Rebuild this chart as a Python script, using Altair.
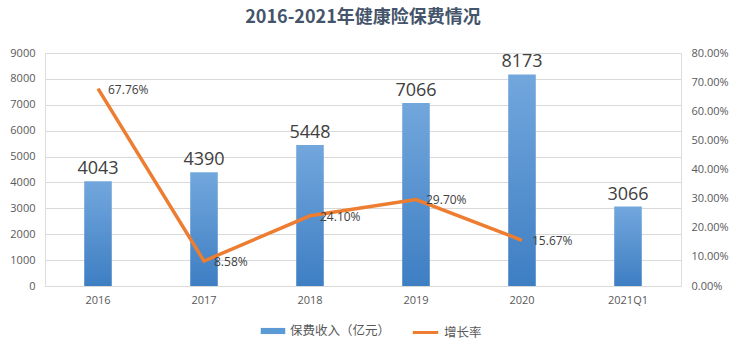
import altair as alt
import pandas as pd

years = ["2016", "2017", "2018", "2019", "2020", "2021Q1"]
premium = [4043, 4390, 5448, 7066, 8173, 3066]
growth = [0.6776, 0.0858, 0.2410, 0.2970, 0.1567, None]

df = pd.DataFrame({"year": years, "premium": premium, "growth": growth})
df_line = df.dropna()

FONT = "Noto Sans CJK SC"
NUMFONT = "Open Sans"

x_enc = alt.X("year:N", sort=years, title=None,
              scale=alt.Scale(paddingInner=0.74, paddingOuter=0.37),
              axis=alt.Axis(labelAngle=0, domain=False, ticks=False, labelColor="#595959",
                            labelFont=NUMFONT, labelFontSize=11, labelPadding=8))

left_scale = alt.Scale(domain=[0, 9000], nice=False)
y_left = alt.Y("premium:Q", title=None, scale=left_scale,
               axis=alt.Axis(values=list(range(0, 9001, 1000)), format="d", domain=False, ticks=False,
                             grid=True, gridColor="#D9D9D9", labelColor="#595959",
                             labelFont=NUMFONT, labelFontSize=11, labelPadding=10))

bars = alt.Chart(df).mark_bar(
    color=alt.Gradient(gradient="linear", x1=0, y1=0, x2=0, y2=1,
                       stops=[alt.GradientStop(color="#72A7DD", offset=0),
                              alt.GradientStop(color="#3E7EC3", offset=1)])
).encode(x=x_enc, y=y_left)

bar_text = alt.Chart(df).mark_text(dy=-12, fontSize=18, color="#404040", font=NUMFONT).encode(
    x=alt.X("year:N", sort=years), y=y_left,
    text=alt.Text("premium:Q", format="d"))

left = alt.layer(bars, bar_text)

y_right_scale = alt.Scale(domain=[0, 0.8], nice=False)
y_right = alt.Y("growth:Q", title=None, scale=y_right_scale,
                axis=alt.Axis(orient="right", format=".2%", values=[i / 10 for i in range(9)],
                              domain=False, ticks=False, grid=False, labelColor="#595959",
                              labelFont=NUMFONT, labelFontSize=11, labelPadding=10))
line = alt.Chart(df_line).mark_line(color="#ED7D31", strokeWidth=3.5).encode(
    x=alt.X("year:N", sort=years), y=y_right)

line_text = alt.Chart(df_line).mark_text(align="left", dx=10, dy=1, fontSize=12, color="#404040", font=NUMFONT).encode(
    x=alt.X("year:N", sort=years), y=y_right,
    text=alt.Text("growth:Q", format=".2%"))

# legend-only layers
leg_bar = alt.Chart(df).mark_bar().encode(
    color=alt.Color("k:N", scale=alt.Scale(domain=["保费收入（亿元）"], range=["#5B9BD5"]),
                    legend=alt.Legend(title=None, orient="none", legendX=215, legendY=265,
                                      symbolType="M-1,-0.25H1V0.25H-1Z", symbolSize=600,
                                      labelFont=FONT, labelFontSize=12.5, labelColor="#595959"))
).transform_calculate(k="'保费收入（亿元）'").transform_filter("datum.premium < 0")

leg_line = alt.Chart(df).mark_line().encode(
    color=alt.Color("k2:N", scale=alt.Scale(domain=["增长率"], range=["#ED7D31"]),
                    legend=alt.Legend(title=None, orient="none", legendX=366, legendY=265,
                                      symbolType="stroke", symbolSize=650, symbolStrokeWidth=3,
                                      labelFont=FONT, labelFontSize=12.5, labelColor="#595959"))
).transform_calculate(k2="'增长率'").transform_filter("datum.premium < 0")

right = alt.layer(line, line_text)

chart = alt.layer(left, right, leg_bar, leg_line).resolve_scale(
    y="independent", color="independent"
).properties(
    width=636, height=233,
    autosize=alt.AutoSizeParams(type="none"),
    padding={"left": 45, "top": 53, "right": 55, "bottom": 65},
    title=alt.TitleParams("2016-2021年健康险保费情况", font=FONT, fontSize=18, fontWeight="bold",
                          color="#44546A", anchor="middle", offset=20),
).configure_view(strokeWidth=0).configure(background="white")

chart.save("out.html", embed_options={"renderer": "svg", "actions": False})
